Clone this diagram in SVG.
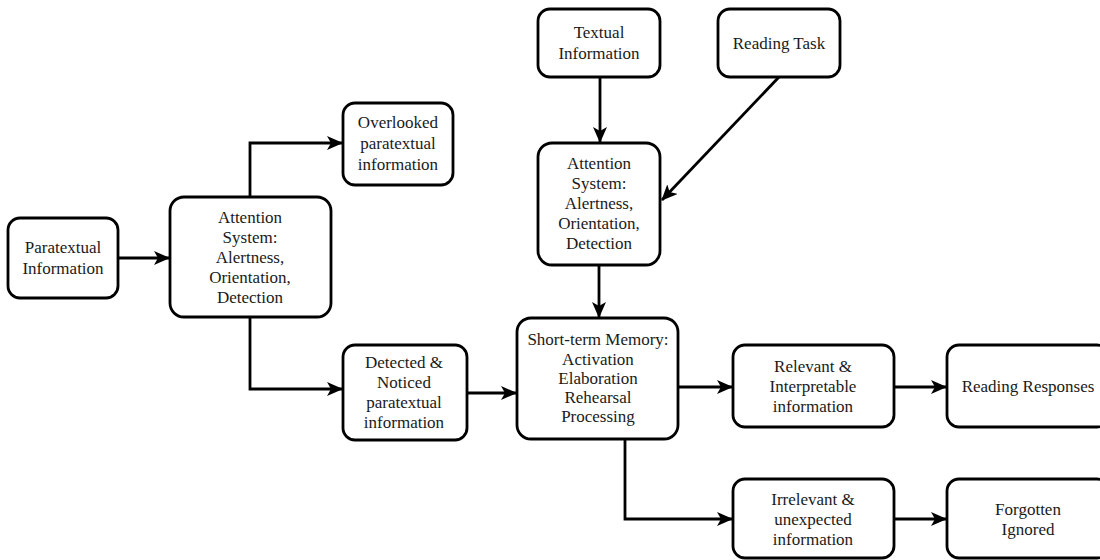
<svg xmlns="http://www.w3.org/2000/svg" width="1100" height="560" viewBox="0 0 1100 560">
<defs>
<marker id="arr" viewBox="0 0 16 14" refX="15" refY="7" markerWidth="16" markerHeight="14" markerUnits="userSpaceOnUse" orient="auto">
<path d="M0,0 L16,7 L0,14 L4,7 z" fill="#000"/>
</marker>
<style>
.box{fill:#fff;stroke:#000;stroke-width:2.8}
.t{font-family:"Liberation Serif","Times New Roman",serif;font-size:17px;fill:#1a1a1a;text-anchor:middle}
.c{fill:none;stroke:#000;stroke-width:2.8;marker-end:url(#arr)}
</style>
</defs>
<rect width="1100" height="560" fill="#fff"/>
<g id="connectors">
<path class="c" d="M118,258 L169,258"/>
<path class="c" d="M250,197 L250,143 L342,143"/>
<path class="c" d="M250,317 L250,389 L342,389"/>
<path class="c" d="M600,77 L600,142"/>
<path class="c" d="M779,77 L662,200"/>
<path class="c" d="M467,393 L516,393"/>
<path class="c" d="M599,265 L599,317"/>
<path class="c" d="M679,387 L732,387"/>
<path class="c" d="M894,387 L946,387"/>
<path class="c" d="M625,439 L625,519 L732,519"/>
<path class="c" d="M894,519 L946,519"/>
</g>
<g id="paratextual">
<rect class="box" x="8" y="218" width="110" height="80" rx="12"/>
<text class="t" x="63" y="253">Paratextual</text>
<text class="t" x="63" y="274">Information</text>
</g>
<g id="attention-left">
<rect class="box" x="170" y="197" width="161" height="120" rx="14"/>
<text class="t" x="250" y="223">Attention</text>
<text class="t" x="250" y="243">System:</text>
<text class="t" x="250" y="263">Alertness,</text>
<text class="t" x="250" y="283">Orientation,</text>
<text class="t" x="250" y="303">Detection</text>
</g>
<g id="overlooked">
<rect class="box" x="343" y="103" width="110" height="82" rx="12"/>
<text class="t" x="398" y="128">Overlooked</text>
<text class="t" x="398" y="149">paratextual</text>
<text class="t" x="398" y="170">information</text>
</g>
<g id="detected">
<rect class="box" x="343" y="345" width="124" height="95" rx="12"/>
<text class="t" x="404" y="368">Detected &amp;</text>
<text class="t" x="404" y="388">Noticed</text>
<text class="t" x="404" y="408">paratextual</text>
<text class="t" x="404" y="428">information</text>
</g>
<g id="textual">
<rect class="box" x="538" y="9" width="122" height="68" rx="12"/>
<text class="t" x="599" y="38">Textual</text>
<text class="t" x="599" y="59">Information</text>
</g>
<g id="reading-task">
<rect class="box" x="718" y="9" width="122" height="68" rx="12"/>
<text class="t" x="779" y="49">Reading Task</text>
</g>
<g id="attention-mid">
<rect class="box" x="538" y="143" width="122" height="122" rx="14"/>
<text class="t" x="599" y="169">Attention</text>
<text class="t" x="599" y="189">System:</text>
<text class="t" x="599" y="209">Alertness,</text>
<text class="t" x="599" y="229">Orientation,</text>
<text class="t" x="599" y="249">Detection</text>
</g>
<g id="short-term">
<rect class="box" x="517" y="318" width="161" height="121" rx="14"/>
<text class="t" x="598" y="345">Short-term Memory:</text>
<text class="t" x="598" y="365">Activation</text>
<text class="t" x="598" y="384">Elaboration</text>
<text class="t" x="598" y="403">Rehearsal</text>
<text class="t" x="598" y="422">Processing</text>
</g>
<g id="relevant">
<rect class="box" x="733" y="345" width="161" height="82" rx="12"/>
<text class="t" x="813" y="372">Relevant &amp;</text>
<text class="t" x="813" y="392">Interpretable</text>
<text class="t" x="813" y="412">information</text>
</g>
<g id="reading-responses">
<rect class="box" x="947" y="345" width="162" height="82" rx="12"/>
<text class="t" x="1028" y="392">Reading Responses</text>
</g>
<g id="irrelevant">
<rect class="box" x="733" y="479" width="161" height="79" rx="12"/>
<text class="t" x="813" y="505">Irrelevant &amp;</text>
<text class="t" x="813" y="525">unexpected</text>
<text class="t" x="813" y="545">information</text>
</g>
<g id="forgotten">
<rect class="box" x="947" y="479" width="162" height="79" rx="12"/>
<text class="t" x="1028" y="515">Forgotten</text>
<text class="t" x="1028" y="535">Ignored</text>
</g>
</svg>
